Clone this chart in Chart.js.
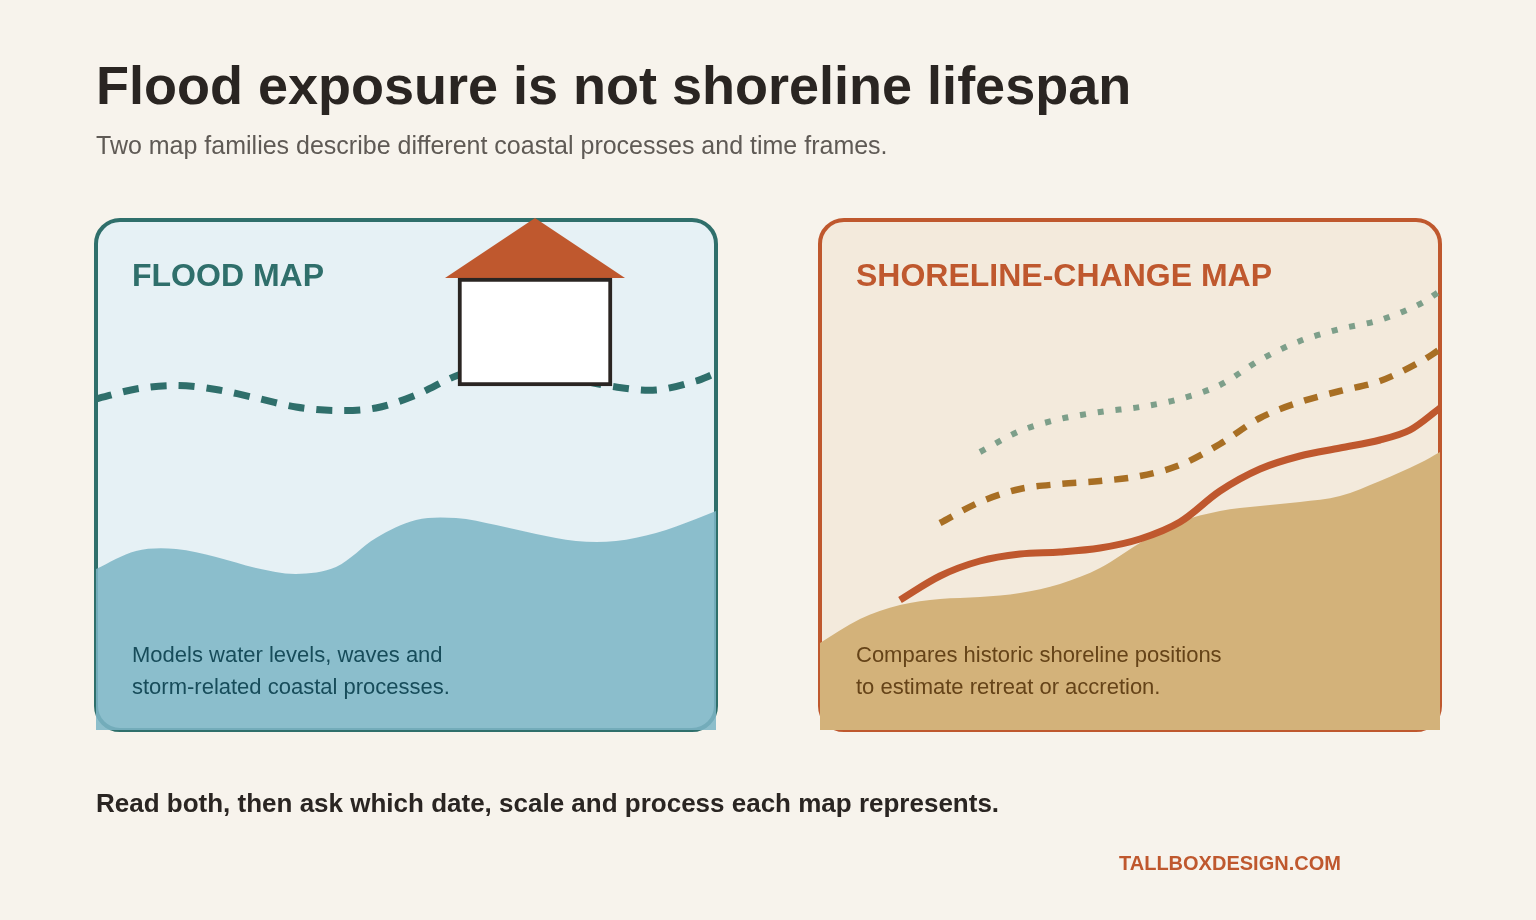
<!DOCTYPE html>
<html lang="en">
<head>
<meta charset="utf-8">
<title>Flood exposure is not shoreline lifespan</title>
<script src="https://cdn.jsdelivr.net/npm/chart.js@4/dist/chart.umd.min.js"></script>
<style>
html,body{margin:0;padding:0;width:1536px;height:920px;overflow:hidden;background:#f7f3ec;font-family:"Liberation Sans",Arial,sans-serif;}
.t{position:absolute;white-space:nowrap;margin:0;}
.panel{position:absolute;box-sizing:border-box;top:218px;width:624px;height:514px;border:4px solid;border-radius:26px;}
#c{position:absolute;left:0;top:0;width:1536px;height:920px;}
</style>
</head>
<body>
<div class="panel" style="left:94px;background:#e6f1f5;border-color:#2f6f6b"></div>
<div class="panel" style="left:818px;background:#f3eadc;border-color:#bf582e"></div>
<canvas id="c" width="1536" height="920"></canvas>
<h1 class="t" style="left:96px;top:55px;font-size:54px;line-height:60px;font-weight:700;color:#2a2522">Flood exposure is not shoreline lifespan</h1>
<p class="t" style="left:96px;top:130px;font-size:25px;line-height:30px;color:#5f5a55">Two map families describe different coastal processes and time frames.</p>
<div class="t" style="left:132px;top:256px;font-size:32px;line-height:38px;font-weight:700;color:#2f6f6b">FLOOD MAP</div>
<div class="t" style="left:856px;top:256px;font-size:32px;line-height:38px;font-weight:700;color:#bf582e">SHORELINE-CHANGE MAP</div>
<div class="t" style="left:132px;top:639px;font-size:22px;line-height:32px;color:#174c5a">Models water levels, waves and<br>storm-related coastal processes.</div>
<div class="t" style="left:856px;top:639px;font-size:22px;line-height:32px;color:#654318">Compares historic shoreline positions<br>to estimate retreat or accretion.</div>
<div class="t" style="left:96px;top:788px;font-size:26px;line-height:30px;font-weight:700;color:#2a2522">Read both, then ask which date, scale and process each map represents.</div>
<div class="t" style="left:1119px;top:851px;font-size:20px;line-height:24px;font-weight:700;color:#bf582e">TALLBOXDESIGN.COM</div>
<script>
const floodLine = [[96,399],[136,389],[176,385.5],[216,389.5],[256,398],[296,407],[336,410.5],[376,408],[416,395],[456,376],[496,364],[536,367],[576,379],[616,387],[656,390],[696,381],[714,374]];
const waterEdge = [[96,569],[136,551],[176,549],[216,557],[256,568],[296,574],[336,567],[376,538],[416,520],[456,518],[496,525],[536,534],[576,541],[616,541],[656,533],[696,519],[716,511]];
const roof = [[445,278],[535,218],[625,278]];
const houseBody = [{x:535,y:[278,386]}];
const landEdge = [[820,643],[860,619],[900,605],[940,599],[980,597],[1020,593],[1060,584],[1100,568],[1140,543],[1180,522],[1220,511],[1260,506],[1300,502],[1340,496],[1380,481],[1420,463],[1440,452]];
const currentShore = [[900,600],[940,576],[980,561],[1020,554],[1060,552],[1100,548],[1140,539],[1180,522],[1220,491],[1260,469],[1300,456],[1340,448],[1380,440],[1410,430],[1440,408]];
const midShore = [[940,523],[980,502],[1020,489],[1060,484],[1100,481],[1140,476],[1180,465],[1220,444],[1260,418],[1300,402],[1340,391],[1380,381],[1420,362],[1439,350]];
const oldShore = [[980,452],[1020,431],[1060,419],[1100,412],[1140,407],[1180,399],[1220,385],[1260,360],[1300,341],[1340,329],[1380,320],[1420,304],[1440,291]];

const xy = a => a.map(p => ({x:p[0], y:p[1]}));
const curve = {type:'line', pointRadius:0, tension:0.33, borderCapStyle:'butt'};
new Chart(document.getElementById('c'), {
  data:{datasets:[
    {...curve, label:'Water', data:xy(waterEdge), borderWidth:0, borderColor:'transparent', backgroundColor:'rgba(125,182,198,0.87)', fill:{value:730}, order:9},
    {...curve, label:'Flood line', data:xy(floodLine), borderWidth:7, borderColor:'#2f6f6b', borderDash:[16,12], fill:false, order:8},
    {type:'line', label:'Roof', data:xy(roof), pointRadius:0, tension:0, borderWidth:0, borderColor:'transparent', backgroundColor:'#bf582e', fill:{value:278}, order:7},
    {type:'bar', label:'House', data:houseBody, barThickness:154, backgroundColor:'#ffffff', borderColor:'#2a2522', borderWidth:4, borderSkipped:false, order:6},
    {...curve, label:'Land', data:xy(landEdge), borderWidth:0, borderColor:'transparent', backgroundColor:'#d3b27a', fill:{value:730}, order:5},
    {...curve, label:'Oldest shoreline', data:xy(oldShore), borderWidth:6, borderColor:'#7d9f8a', borderDash:[6,11.9], fill:false, order:4},
    {...curve, label:'Middle shoreline', data:xy(midShore), borderWidth:6.5, borderColor:'#a86f24', borderDash:[14,12], fill:false, order:3},
    {...curve, label:'Recent shoreline', data:xy(currentShore), borderWidth:7, borderColor:'#bf582e', fill:false, order:2}
  ]},
  options:{
    responsive:false, animation:false, devicePixelRatio:1,
    layout:{padding:0},
    plugins:{legend:{display:false}, tooltip:{enabled:false}},
    events:[],
    scales:{
      x:{type:'linear', min:0, max:1536, display:false, offset:false},
      y:{type:'linear', min:0, max:920, reverse:true, display:false}
    }
  }
});
</script>
</body>
</html>
